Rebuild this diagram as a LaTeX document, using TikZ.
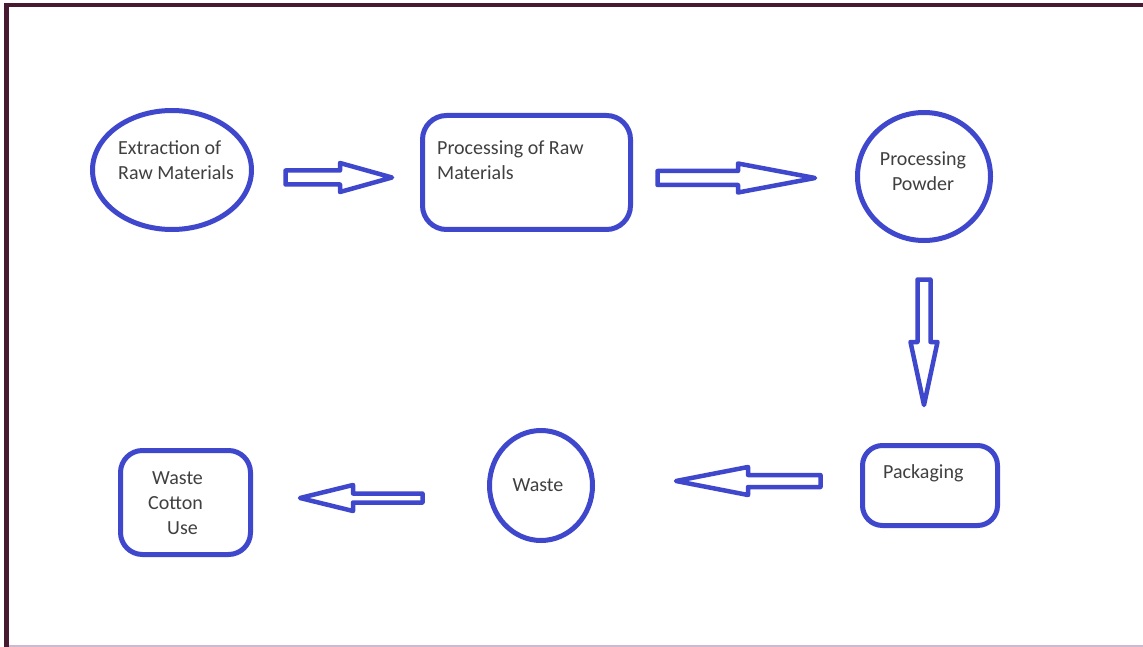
\documentclass[tikz,border=0pt]{standalone}
\usepackage{fontspec}
\setmainfont{Carlito}
\usetikzlibrary{shapes.geometric}
\definecolor{paintblue}{RGB}{63,72,204}
\definecolor{framedark}{RGB}{72,26,50}
\definecolor{framelight}{RGB}{205,185,210}
\definecolor{txtgray}{RGB}{64,64,64}
% horizontal block arrow: tail x, head base x, tip x, centre y, shaft half width, head half width
\newcommand\hblockarrow[6]{%
  \draw[blockarr] (#1,#4-#5) -- (#2,#4-#5) -- (#2,#4-#6) -- (#3,#4)
    -- (#2,#4+#6) -- (#2,#4+#5) -- (#1,#4+#5) -- cycle;}
% vertical block arrow: tail y, head base y, tip y, centre x, shaft half width, head half width
\newcommand\vblockarrow[6]{%
  \draw[blockarr] (#4-#5,#1) -- (#4-#5,#2) -- (#4-#6,#2) -- (#4,#3)
    -- (#4+#6,#2) -- (#4+#5,#2) -- (#4+#5,#1) -- cycle;}
\begin{document}
\begin{tikzpicture}[x=1pt,y=-1pt,
  shapeline/.style={draw=paintblue,line width=5pt},
  oval/.style={shapeline,ellipse,inner sep=0pt},
  roundbox/.style={shapeline,rectangle,rounded corners=24pt,inner sep=0pt},
  blockarr/.style={draw=paintblue,line width=4.5pt,line join=round},
  lbl/.style={text=txtgray,font=\fontsize{20}{25}\selectfont,inner sep=0pt}]
\useasboundingbox[fill=white] (0,0) rectangle (1143,647);

% frame
\draw[framedark,line width=4pt] (4,5) -- (1143,5);
\draw[framedark,line width=5pt] (6.5,3) -- (6.5,647);
\draw[framelight,line width=2pt] (9,646) -- (1143,646);

% shapes
\node[oval,minimum width=159pt,minimum height=119pt] (extract) at (172,170) {};
\node[roundbox,minimum width=208pt,minimum height=114pt] (procraw) at (526.5,172.5) {};
\node[oval,minimum width=133pt,minimum height=128pt] (powder) at (924,176.5) {};
\node[roundbox,minimum width=135pt,minimum height=80pt,rounded corners=20pt] (pack) at (930,485.5) {};
\node[oval,minimum width=103pt,minimum height=110pt] (waste) at (541,485.5) {};
\node[roundbox,minimum width=130pt,minimum height=104pt,rounded corners=22pt] (cotton) at (185.5,502.5) {};

% labels
\node[lbl,align=left,anchor=west] (textract) at (118,160) {Extraction of\\Raw Materials};
\node[lbl,align=left,anchor=west] (tprocraw) at (437,160) {Processing of Raw\\Materials};
\node[lbl,align=center] (tpowder) at (923,171) {Processing\\Powder};
\node[lbl,anchor=west] (tpack) at (883,473) {Packaging};
\node[lbl] (twaste) at (538,485) {Waste};
\node[lbl,align=left,anchor=west] (tcotton) at (148,503) {\hspace{4pt}Waste\\Cotton\\\hspace{19pt}Use};

% block arrows between the stages
\hblockarrow{285.5}{340}{392}{177.5}{7}{14.5}
\hblockarrow{657.5}{738}{815}{178}{7}{14.5}
\vblockarrow{279.5}{342}{405}{924}{6.5}{13.5}
\hblockarrow{820.5}{748}{676}{481}{6}{14}
\hblockarrow{422.5}{353}{300}{498}{4.5}{13}
\end{tikzpicture}
\end{document}
